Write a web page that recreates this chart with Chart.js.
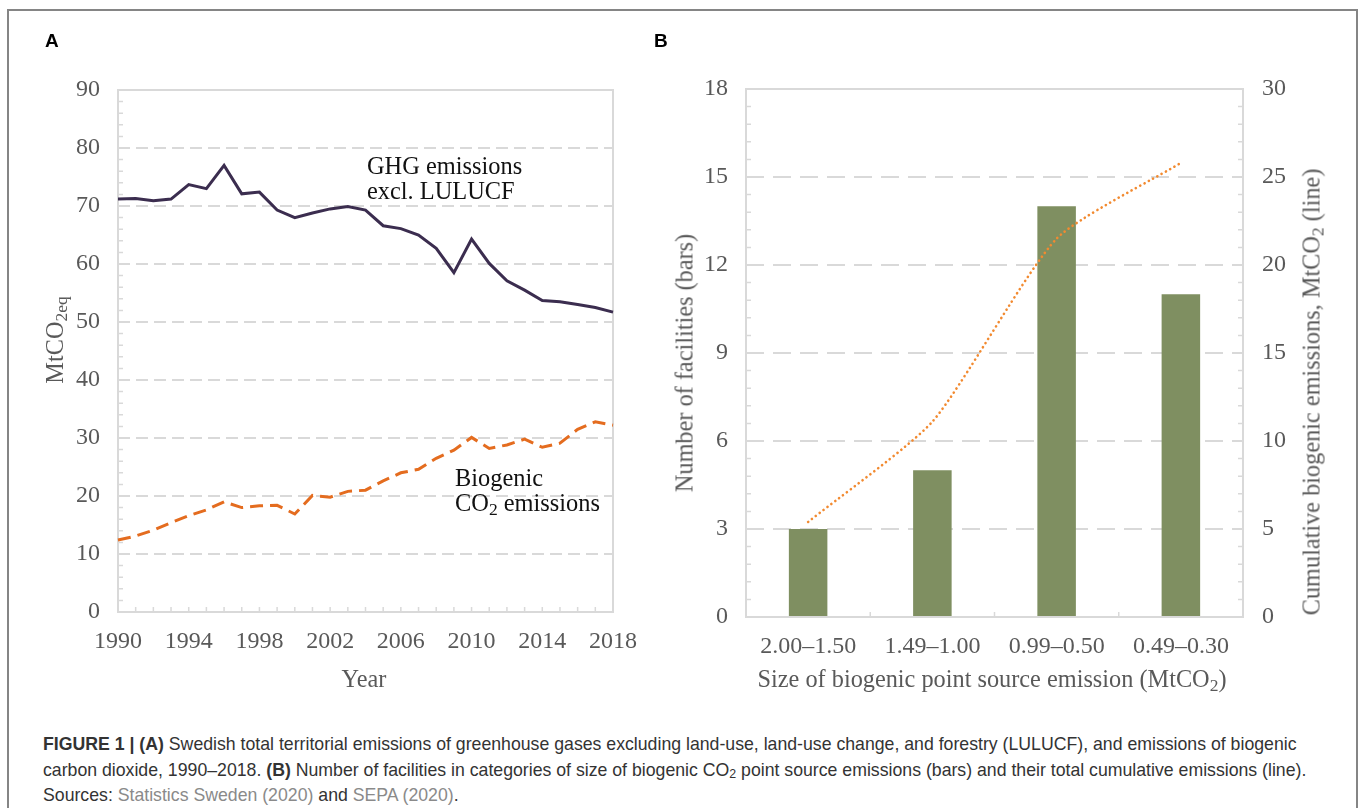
<!DOCTYPE html>
<html>
<head>
<meta charset="utf-8">
<script src="https://cdn.jsdelivr.net/npm/chart.js@4.4.1/dist/chart.umd.min.js"></script>
<style>
  html, body { margin: 0; padding: 0; background: #fff; overflow: hidden; }
  #fig { position: relative; width: 1360px; height: 808px; background: #fff; }
  #frame { position: absolute; left: 7px; top: 9px; width: 1347px; height: 830px;
           border: 2px solid #858585; border-bottom: none; }
  canvas { position: absolute; top: 0; }
  .lbl { position: absolute; font-family: "Liberation Serif", "Times New Roman", serif;
         font-size: 24.3px; line-height: 25px; color: #595959; white-space: nowrap; }
  .note { color: #111; font-size: 24.4px; }
  .rot { transform: translate(-50%, -50%) rotate(-90deg); }
  .ctr { transform: translateX(-50%); }
  .panel { position: absolute; font-family: "Liberation Sans", Arial, sans-serif;
           font-weight: bold; font-size: 19px; line-height: 19px; color: #000; }
  .lbl sub { font-size: 0.72em; vertical-align: -0.25em; line-height: 0; }
  #caption { position: absolute; left: 43px; top: 732px; font-family: "Liberation Sans", Arial, sans-serif;
             font-size: 17.7px; line-height: 25.5px; color: #333; white-space: nowrap; }
  #caption sub { font-size: 0.7em; vertical-align: -0.2em; line-height: 0; }
  #caption .src { color: #8a8a8a; }
</style>
</head>
<body>
<div id="fig">
  <div id="frame"></div>
  <canvas id="chartA" width="680" height="700" style="left:0px"></canvas>
  <canvas id="chartB" width="680" height="700" style="left:680px"></canvas>

  <div class="panel" style="left:45px; top:31px;">A</div>
  <div class="panel" style="left:654px; top:31px;">B</div>

  <!-- panel A texts -->
  <div class="lbl rot" style="left:54px; top:340px;">MtCO<sub>2eq</sub></div>
  <div class="lbl ctr" style="left:364px; top:666px;">Year</div>
  <div class="lbl note" style="left:367px; top:153px;">GHG emissions<br>excl. LULUCF</div>
  <div class="lbl note" style="left:455px; top:465px;">Biogenic<br>CO<sub>2</sub> emissions</div>

  <!-- panel B texts -->
  <div class="lbl rot" style="left:684px; top:363px;">Number of facilities (bars)</div>
  <div class="lbl rot" style="left:1311px; top:392px;">Cumulative biogenic emissions, MtCO<sub>2</sub> (line)</div>
  <div class="lbl ctr" style="left:992px; top:666px;">Size of biogenic point source emission (MtCO<sub>2</sub>)</div>

  <div id="caption"><b>FIGURE 1 | (A)</b> Swedish total territorial emissions of greenhouse gases excluding land-use, land-use change, and forestry (LULUCF), and emissions of biogenic<br>carbon dioxide, 1990–2018. <b>(B)</b> Number of facilities in categories of size of biogenic CO<sub>2</sub> point source emissions (bars) and their total cumulative emissions (line).<br>Sources: <span class="src">Statistics Sweden (2020)</span> and <span class="src">SEPA (2020)</span>.</div>
</div>

<script>
// panel A data (MtCO2eq)
const years = [1990, 1991, 1992, 1993, 1994, 1995, 1996, 1997, 1998, 1999,
               2000, 2001, 2002, 2003, 2004, 2005, 2006, 2007, 2008, 2009,
               2010, 2011, 2012, 2013, 2014, 2015, 2016, 2017, 2018];
const ghgEmissions = [71.2, 71.3, 70.9, 71.2, 73.7, 73.0, 77.0, 72.1, 72.4, 69.3,
                      68.0, 68.8, 69.5, 69.9, 69.3, 66.6, 66.1, 65.0, 62.7, 58.5,
                      64.3, 60.1, 57.1, 55.5, 53.7, 53.5, 53.0, 52.5, 51.7];
const biogenicCO2 = [12.4, 13.1, 14.1, 15.4, 16.6, 17.6, 19.0, 18.0, 18.3, 18.4,
                     16.9, 20.1, 19.8, 20.8, 21.0, 22.6, 24.0, 24.6, 26.5, 27.9,
                     30.1, 28.2, 28.8, 29.8, 28.4, 29.1, 31.5, 32.8, 32.2];

// panel B data
const sizeClasses = ['2.00–1.50', '1.49–1.00', '0.99–0.50', '0.49–0.30'];
const facilities = [3, 5, 14, 11];
const cumulativeEmissions = [5.4, 11.1, 21.5, 25.8];

Chart.defaults.font.family = '"Liberation Serif", "Times New Roman", serif';
Chart.defaults.font.size = 24;
Chart.defaults.color = '#595959';

const gridGrey = '#d9d9d9';

// hide the dashed grid line where it meets the frame
function gridColor(c) {
    if (c.tick.value <= c.scale.min || c.tick.value >= c.scale.max) return 'rgba(0,0,0,0)';
    return gridGrey;
}

// plot frame and small inward tick marks, like the original figure
const innerTicks = {
    id: 'innerTicks',
    beforeDatasetsDraw(chart, args, opts) {
        const ctx = chart.ctx;
        const a = chart.chartArea;
        ctx.save();
        ctx.setLineDash([]);
        ctx.strokeStyle = gridGrey;
        ctx.lineWidth = 2;
        ctx.strokeRect(a.left, a.top, a.right - a.left, a.bottom - a.top);

        ctx.lineWidth = 1.5;
        ctx.beginPath();
        const len = opts.len || 5;
        ['left', 'right'].forEach(side => {
            const o = opts[side];
            if (!o) return;
            const s = chart.scales[o.axis];
            const n = Math.round((s.max - s.min) / o.step);
            for (let i = 0; i <= n; i++) {
                const y = s.getPixelForValue(s.min + i * o.step);
                const x0 = side === 'left' ? a.left : a.right;
                const x1 = side === 'left' ? a.left + len : a.right - len;
                ctx.moveTo(x0, y);
                ctx.lineTo(x1, y);
            }
        });
        const xs = chart.scales.x;
        const count = chart.data.labels.length;
        if (opts.xMode === 'each') {
            for (let i = 0; i < count; i++) {
                const x = xs.getPixelForTick(i);
                ctx.moveTo(x, a.bottom);
                ctx.lineTo(x, a.bottom - len);
            }
        } else if (opts.xMode === 'between') {
            for (let i = 0; i < count - 1; i++) {
                const x = (xs.getPixelForTick(i) + xs.getPixelForTick(i + 1)) / 2;
                ctx.moveTo(x, a.bottom);
                ctx.lineTo(x, a.bottom - len);
            }
        }
        ctx.stroke();
        ctx.restore();
    }
};

// Panel A: emissions over time
new Chart(document.getElementById('chartA'), {
    type: 'line',
    data: {
        labels: years,
        datasets: [
            {
                label: 'GHG emissions excl. LULUCF',
                data: ghgEmissions,
                borderColor: '#3b2d4f',
                borderWidth: 3,
                pointRadius: 0,
                tension: 0
            },
            {
                label: 'Biogenic CO2 emissions',
                data: biogenicCO2,
                borderColor: '#e46c1f',
                borderWidth: 3,
                borderDash: [13, 7],
                pointRadius: 0,
                tension: 0
            }
        ]
    },
    options: {
        responsive: false,
        animation: false,
        layout: { padding: { top: 90, right: 67, left: 0, bottom: 0 } },
        plugins: {
            legend: { display: false },
            tooltip: { enabled: false },
            innerTicks: { left: { axis: 'y', step: 2 }, xMode: 'each', len: 5 }
        },
        scales: {
            x: {
                grid: { display: false },
                border: { display: false },
                ticks: {
                    autoSkip: false,
                    maxRotation: 0,
                    padding: 7,
                    callback: (v, i) => ((years[i] - 1990) % 4 === 0 ? String(years[i]) : '')
                },
                afterFit: s => { s.height = 88; }
            },
            y: {
                min: 0,
                max: 90,
                ticks: { stepSize: 10, padding: 18 },
                grid: { color: gridColor, lineWidth: 2, drawTicks: false },
                border: { display: false, dash: [12, 6] },
                afterFit: s => { s.width = 118; }
            }
        }
    },
    plugins: [innerTicks]
});

// Panel B: facilities by size class (bars) and cumulative emissions (line)
new Chart(document.getElementById('chartB'), {
    type: 'bar',
    data: {
        labels: sizeClasses,
        datasets: [
            {
                type: 'line',
                label: 'Cumulative biogenic emissions',
                data: cumulativeEmissions,
                yAxisID: 'y2',
                borderColor: '#f28a30',
                borderWidth: 2.6,
                borderDash: [0.1, 4.8],
                borderCapStyle: 'round',
                pointRadius: 0,
                tension: 0.2,
                order: 0
            },
            {
                type: 'bar',
                label: 'Number of facilities',
                data: facilities,
                yAxisID: 'y',
                backgroundColor: '#7f8f61',
                barPercentage: 0.31,
                categoryPercentage: 1,
                order: 1
            }
        ]
    },
    options: {
        responsive: false,
        animation: false,
        layout: { padding: { top: 89, right: 0, left: 0, bottom: 0 } },
        plugins: {
            legend: { display: false },
            tooltip: { enabled: false },
            innerTicks: { left: { axis: 'y', step: 0.6 }, right: { axis: 'y2', step: 1 }, xMode: 'between', len: 5 }
        },
        scales: {
            x: {
                grid: { display: false },
                border: { display: false },
                ticks: { maxRotation: 0, padding: 7 },
                afterFit: s => { s.height = 83; }
            },
            y: {
                position: 'left',
                min: 0,
                max: 18,
                ticks: { stepSize: 3, padding: 18 },
                grid: { color: gridColor, lineWidth: 2, drawTicks: false },
                border: { display: false, dash: [18, 9] },
                afterFit: s => { s.width = 66; }
            },
            y2: {
                position: 'right',
                min: 0,
                max: 30,
                ticks: { stepSize: 5, padding: 19 },
                grid: { drawOnChartArea: false, drawTicks: false },
                border: { display: false },
                afterFit: s => { s.width = 117; }
            }
        }
    },
    plugins: [innerTicks]
});
</script>
</body>
</html>
